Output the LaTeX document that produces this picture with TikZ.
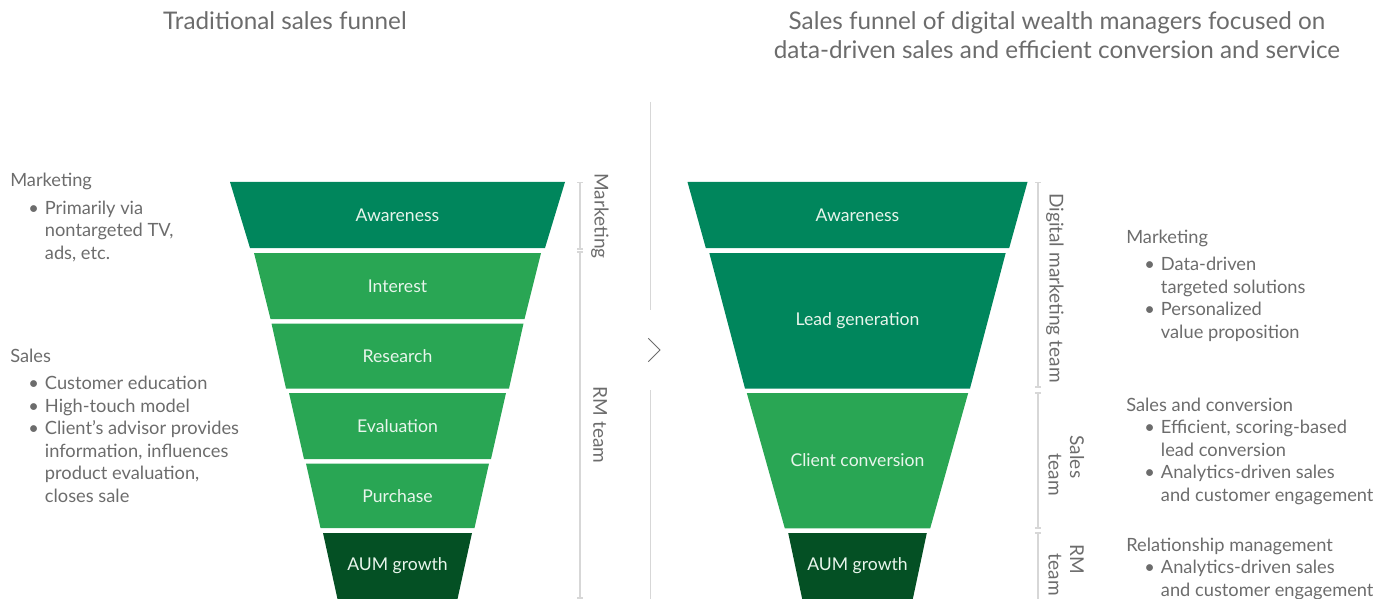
\documentclass[tikz,border=0pt]{standalone}
\usepackage{fontspec}
\setmainfont{Lato}
\definecolor{teal1}{RGB}{0,134,92}
\definecolor{green1}{RGB}{41,166,84}
\definecolor{dark1}{RGB}{4,80,36}
\definecolor{txt}{RGB}{108,108,108}
\definecolor{rule}{RGB}{215,215,215}
\definecolor{lbl}{RGB}{232,245,236}
\newcommand\bitem{\hspace*{13.5pt}\makebox[12.5pt][l]{\textbullet}}
\newcommand\bcont{\hspace*{26pt}}
\begin{document}
\begin{tikzpicture}[x=0.75pt,y=-0.75pt,
  seglbl/.style={text=lbl,font=\fontsize{13.2}{15}\selectfont,inner sep=0pt},
  sidetxt/.style={text=txt,font=\fontsize{13.7}{16.85}\selectfont,align=left,anchor=base west,inner sep=0pt},
  title/.style={text=txt,font=\fontsize{18.2}{21.75}\selectfont,align=center,inner sep=0pt},
  vlbl/.style={text=txt,font=\fontsize{14.3}{15}\selectfont,rotate=-90,inner sep=0pt},
  rulel/.style={draw=rule,line width=0.8pt},
  tick/.style={draw=rule,line width=0.8pt}]
\useasboundingbox (0,0) rectangle (1389,599);
% titles
\node[title,anchor=base] (t1) at (285,29.5) {Traditional sales funnel};
\node[title,anchor=base] (t2) at (1057,58.5) {Sales funnel of digital wealth managers focused on\\data-driven sales and efficient conversion and service};
% left funnel (center 397.5)
\fill[teal1] (230,182) -- (565,182) -- (545,248) -- (250,248) -- cycle;
\node[seglbl] (l1) at (397.5,215) {Awareness};
\fill[green1] (254,253) -- (541,253) -- (524.5,319) -- (270.5,319) -- cycle;
\node[seglbl] (l2) at (397.5,286) {Interest};
\fill[green1] (271.5,323.5) -- (523.5,323.5) -- (509,388.5) -- (286,388.5) -- cycle;
\node[seglbl] (l3) at (397.5,356) {Research};
\fill[green1] (289,393) -- (506,393) -- (491,459) -- (304,459) -- cycle;
\node[seglbl] (l4) at (397.5,426) {Evaluation};
\fill[green1] (306,463.5) -- (489,463.5) -- (474.5,528) -- (320.5,528) -- cycle;
\node[seglbl] (l5) at (397.5,496) {Purchase};
\fill[dark1] (323,533) -- (472,533) -- (457.5,599) -- (337.5,599) -- cycle;
\node[seglbl] (l6) at (397.5,566) {AUM growth};
% right funnel (center 857.5)
\fill[teal1] (687.5,182) -- (1027.5,182) -- (1009.2,248) -- (705.8,248) -- cycle;
\node[seglbl] (r1) at (857.5,215) {Awareness};
\fill[teal1] (709.3,253) -- (1005.7,253) -- (970,388.5) -- (745,388.5) -- cycle;
\node[seglbl] (r2) at (857.5,321) {Lead generation};
\fill[green1] (746.8,393) -- (968.2,393) -- (930.2,528.3) -- (784.8,528.3) -- cycle;
\node[seglbl] (r3) at (857.5,460) {Client conversion};
\fill[dark1] (788.2,533) -- (926.8,533) -- (912.8,599) -- (802.2,599) -- cycle;
\node[seglbl] (r4) at (857.5,566) {AUM growth};
% left brackets
\coordinate (lb1a) at (580,182.5); \coordinate (lb1b) at (580,249);
\coordinate (lb2a) at (580,252); \coordinate (lb2b) at (580,598);
\draw[rulel] (lb1a) -- (lb1b);
\draw[rulel] (lb2a) -- (lb2b);
\foreach \p in {lb1a,lb1b,lb2a,lb2b} \draw[tick] ([xshift=-2pt]\p) -- ([xshift=2pt]\p);
\node[vlbl] (lm) at (600,216) {Marketing};
\node[vlbl] (lr) at (600,425) {RM team};
% right brackets
\coordinate (rb1a) at (1038,182.5); \coordinate (rb1b) at (1038,387);
\coordinate (rb2a) at (1038,393); \coordinate (rb2b) at (1038,528);
\coordinate (rb3a) at (1038,533); \coordinate (rb3b) at (1038,598.5);
\draw[rulel] (rb1a) -- (rb1b);
\draw[rulel] (rb2a) -- (rb2b);
\draw[rulel] (rb3a) -- (rb3b);
\foreach \p in {rb1a,rb1b,rb2a,rb2b,rb3a} \draw[tick] ([xshift=-2pt]\p) -- ([xshift=2pt]\p);
\node[vlbl] (rdm) at (1055,288) {Digital marketing team};
\node[vlbl] (rs1) at (1077,457) {Sales};
\node[vlbl] (rs2) at (1055,475) {team};
\node[vlbl] (rrm1) at (1077,559) {RM};
\node[vlbl] (rrm2) at (1055,575) {team};
% divider and chevron
\coordinate (d1a) at (650.5,102); \coordinate (d1b) at (650.5,310);
\coordinate (d2a) at (650.5,390); \coordinate (d2b) at (650.5,599);
\draw[rulel] (d1a) -- (d1b);
\draw[rulel] (d2a) -- (d2b);
\coordinate (c1) at (648.3,338.3); \coordinate (c2) at (660,350); \coordinate (c3) at (648.3,361.7);
\draw[txt,line width=0.7pt] (c1) -- (c2) -- (c3);
% left side texts (anchored at the baseline of the last line)
\node[sidetxt] (lmk) at (10,259) {Marketing\\[3.5pt]
\bitem Primarily via\\
\bcont nontargeted TV,\\
\bcont ads, etc.};
\node[sidetxt] (lsl) at (10,502) {Sales\\[3.5pt]
\bitem Customer education\\
\bitem High-touch model\\
\bitem Client’s advisor provides\\
\bcont information, influences\\
\bcont product evaluation,\\
\bcont closes sale};
% right side texts
\node[sidetxt] (rmk) at (1126,338) {Marketing\\[3.5pt]
\bitem Data-driven\\
\bcont targeted solutions\\
\bitem Personalized\\
\bcont value proposition};
\node[sidetxt] (rsc) at (1126,501) {Sales and conversion\\
\bitem Efficient, scoring-based\\
\bcont lead conversion\\
\bitem Analytics-driven sales\\
\bcont and customer engagement};
\node[sidetxt] (rrl) at (1126,596) {Relationship management\\
\bitem Analytics-driven sales\\
\bcont and customer engagement};
\end{tikzpicture}
\end{document}
